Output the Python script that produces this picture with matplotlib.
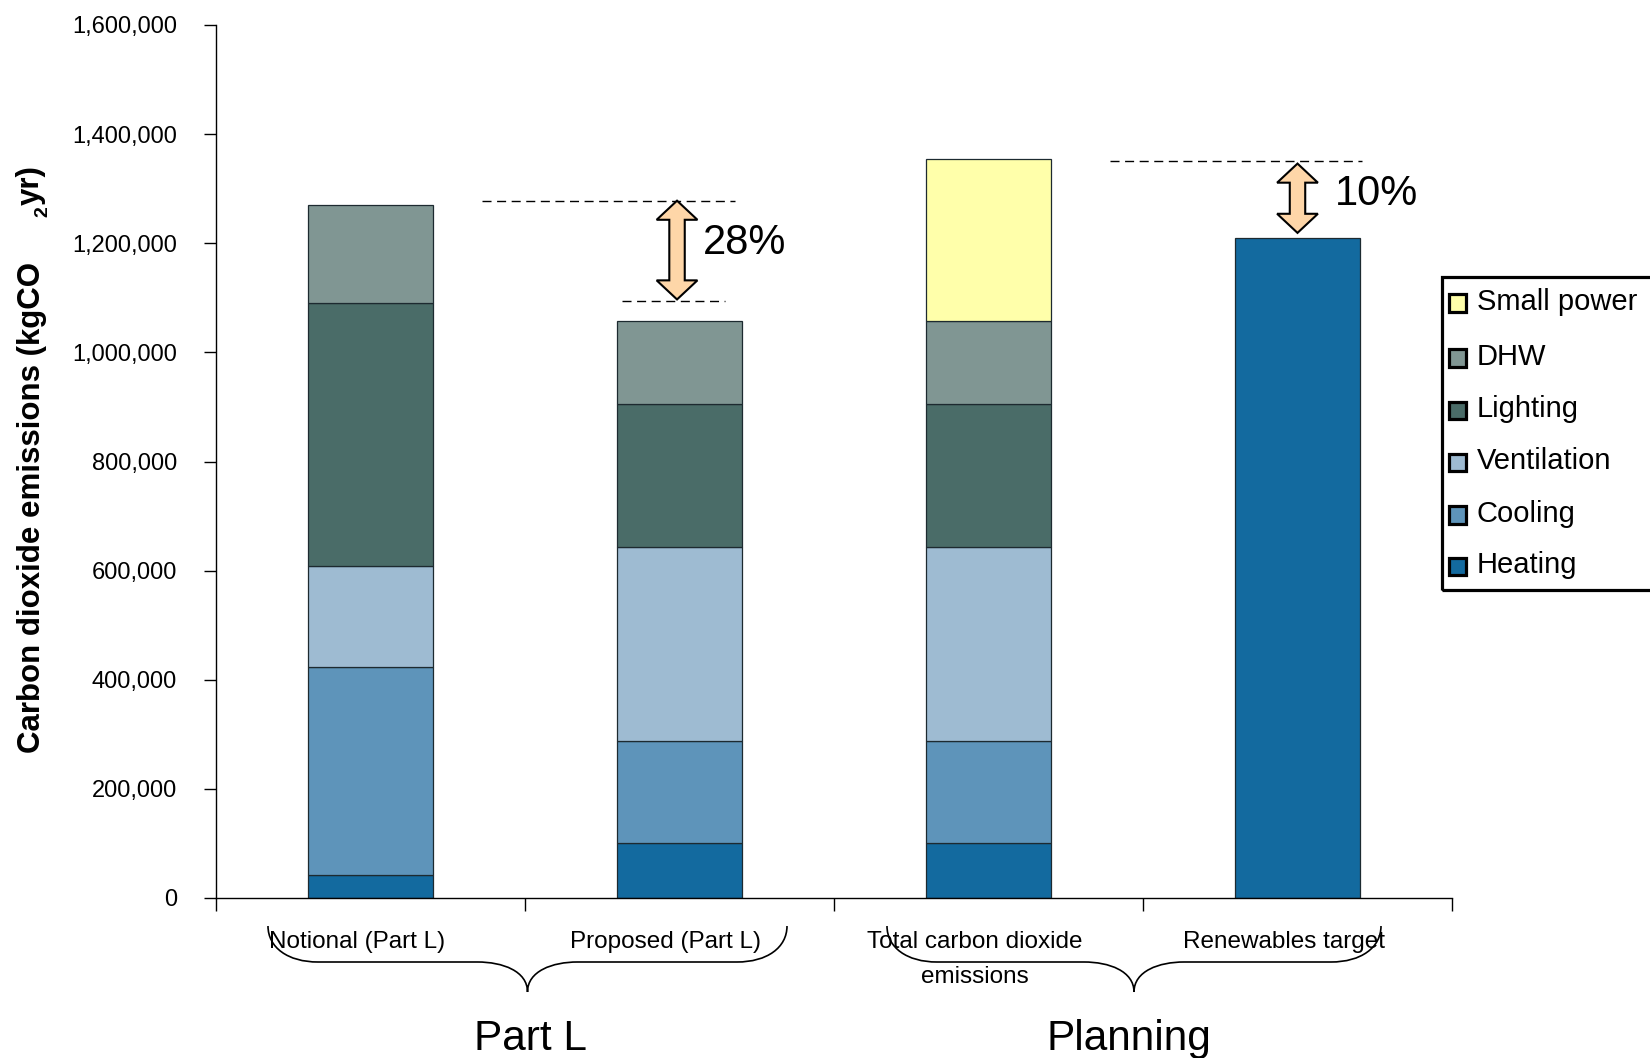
import matplotlib
matplotlib.use("Agg")
import matplotlib.pyplot as plt
from matplotlib.patches import Polygon, Rectangle, PathPatch
from matplotlib.path import Path
from matplotlib.ticker import FuncFormatter

plt.rcParams['font.family'] = ['Liberation Sans', 'DejaVu Sans']

# ---- data (kgCO2/yr), stacked bottom to top ----
categories = ["Notional (Part L)", "Proposed (Part L)",
              "Total carbon dioxide\nemissions", "Renewables target"]
series = ["Heating", "Cooling", "Ventilation", "Lighting", "DHW", "Small power"]
heating = [43000, 101000, 101000, 1210000]
cooling = [380000, 187000, 187000, 0]
ventilation = [185000, 355000, 355000, 0]
lighting = [482000, 262000, 262000, 0]
dhw = [180000, 153000, 153000, 0]
small_power = [0, 0, 297000, 0]
colors = ["#136a9f", "#5e94ba", "#9ebbd2", "#4a6c68", "#809693", "#ffffaa"]

groups = ["Part L", "Planning"]
reduction_labels = ["28%", "10%"]

W, H = 1650, 1058


def fx(x):
    return x / W


def fy(y):
    return 1 - y / H


fig = plt.figure(figsize=(W / 100, H / 100), dpi=100)
ax = fig.add_axes([fx(216), fy(898), fx(1452) - fx(216), fy(25) - fy(898)])

x = [i + 0.5 for i in range(len(categories))]
bottom = [0] * len(categories)
for name, vals, col in zip(series, [heating, cooling, ventilation, lighting, dhw, small_power], colors):
    for i, v in enumerate(vals):
        if v > 0:
            ax.bar(x[i], v, width=0.404, bottom=bottom[i], color=col,
                   edgecolor="#1d2a30", linewidth=0.9, zorder=2)
    bottom = [b + v for b, v in zip(bottom, vals)]

ax.set_xlim(0, 4)
ax.set_ylim(0, 1600000)
for s in ("top", "right"):
    ax.spines[s].set_visible(False)
for s in ("left", "bottom"):
    ax.spines[s].set_linewidth(1.0)

ax.set_yticks(range(0, 1600001, 200000))
ax.yaxis.set_major_formatter(FuncFormatter(lambda v, p: f"{v:,.0f}"))
ax.tick_params(axis="y", labelsize=17, pad=19, length=9, width=1)
ax.set_xticks(range(5))
ax.set_xticklabels([])
ax.tick_params(axis="x", length=9, width=1)

for xi, lab in zip(x, categories):
    ax.text(xi - 0.045, -0.038, lab, transform=ax.get_xaxis_transform(),
            ha="center", va="top", fontsize=17.5, linespacing=1.75,
            multialignment="center")

# ---- reduction annotations ----
def double_arrow(cx, ytop, ybot, hw=0.066, sw=0.025, hl=35000):
    pts = [(cx, ytop), (cx + hw, ytop - hl), (cx + sw, ytop - hl),
           (cx + sw, ybot + hl), (cx + hw, ybot + hl), (cx, ybot),
           (cx - hw, ybot + hl), (cx - sw, ybot + hl), (cx - sw, ytop - hl),
           (cx - hw, ytop - hl)]
    ax.add_patch(Polygon(pts, closed=True, facecolor="#fed6a8",
                         edgecolor="black", linewidth=1.5, zorder=4,
                         clip_on=False))


dash = dict(color="black", linewidth=1.0, dashes=(6.5, 4), zorder=3)
ax.plot([0.861, 1.68], [1278000, 1278000], **dash)
ax.plot([1.313, 1.647], [1095000, 1095000], **dash)
double_arrow(1.492, 1278000, 1097000)
ax.text(1.576, 1201000, reduction_labels[0], fontsize=30, ha="left", va="center")

total_top = bottom[2]
ax.plot([2.893, 3.709], [total_top - 4000, total_top - 4000], **dash)
double_arrow(3.50, total_top - 9000, bottom[3] + 9000)
ax.text(3.621, 1291000, reduction_labels[1], fontsize=30, ha="left", va="center")

# ---- y label with detached subscript ----
fig.text(fx(40), fy(753), "Carbon dioxide emissions (kgCO", rotation=90,
         rotation_mode="anchor", ha="left", va="baseline", fontsize=22.5,
         fontweight="bold")
fig.text(fx(47), fy(217), "2", rotation=90, rotation_mode="anchor",
         ha="left", va="baseline", fontsize=14, fontweight="bold")
fig.text(fx(39), fy(205), "yr)", rotation=90, rotation_mode="anchor",
         ha="left", va="baseline", fontsize=22.5, fontweight="bold")


# ---- group braces ----
def brace(xl, xr, ye, ym, yt, r=50):
    xc = (xl + xr) / 2
    pts = [(xl, ye),
           (xl, ye + 0.6 * (ym - ye)), (xl + 0.4 * r, ym), (xl + r, ym),
           (xc - r, ym),
           (xc - 0.5 * r, ym), (xc, ym + 0.3 * (yt - ym)), (xc, yt),
           (xc, ym + 0.3 * (yt - ym)), (xc + 0.5 * r, ym), (xc + r, ym),
           (xr - r, ym),
           (xr - 0.4 * r, ym), (xr, ye + 0.6 * (ym - ye)), (xr, ye)]
    codes = [Path.MOVETO] + [Path.CURVE4] * 3 + [Path.LINETO] + \
        [Path.CURVE4] * 6 + [Path.LINETO] + [Path.CURVE4] * 3
    path = Path([(fx(a), fy(b)) for a, b in pts], codes)
    fig.add_artist(PathPatch(path, transform=fig.transFigure, fill=False,
                             edgecolor="black", linewidth=1.2))


for xl, xr in [(268, 787), (887, 1381)]:
    brace(xl, xr, 926, 962, 992)
for xg, g in zip([531, 1129], groups):
    fig.text(fx(xg), fy(1050), g, fontsize=30.5, ha="center", va="baseline")

# ---- legend (drawn by hand, frame runs off the right edge) ----
fig.add_artist(Rectangle((fx(1441.5), fy(590)), fx(1665) - fx(1441.5),
                         fy(277) - fy(590), transform=fig.transFigure,
                         fill=False, edgecolor="black", linewidth=2.3,
                         clip_on=False))
rows = [303, 358, 410, 462, 515, 566]
for yc, name, col in zip(rows, series[::-1], colors[::-1]):
    fig.add_artist(Rectangle((fx(1448.5), fy(yc + 8.5)), fx(17), fy(0) - fy(17),
                             transform=fig.transFigure, facecolor=col,
                             edgecolor="black", linewidth=2.3))
    fig.text(fx(1477), fy(yc - 1), name, fontsize=21, ha="left", va="center")

fig.savefig("out.png", dpi=100)
